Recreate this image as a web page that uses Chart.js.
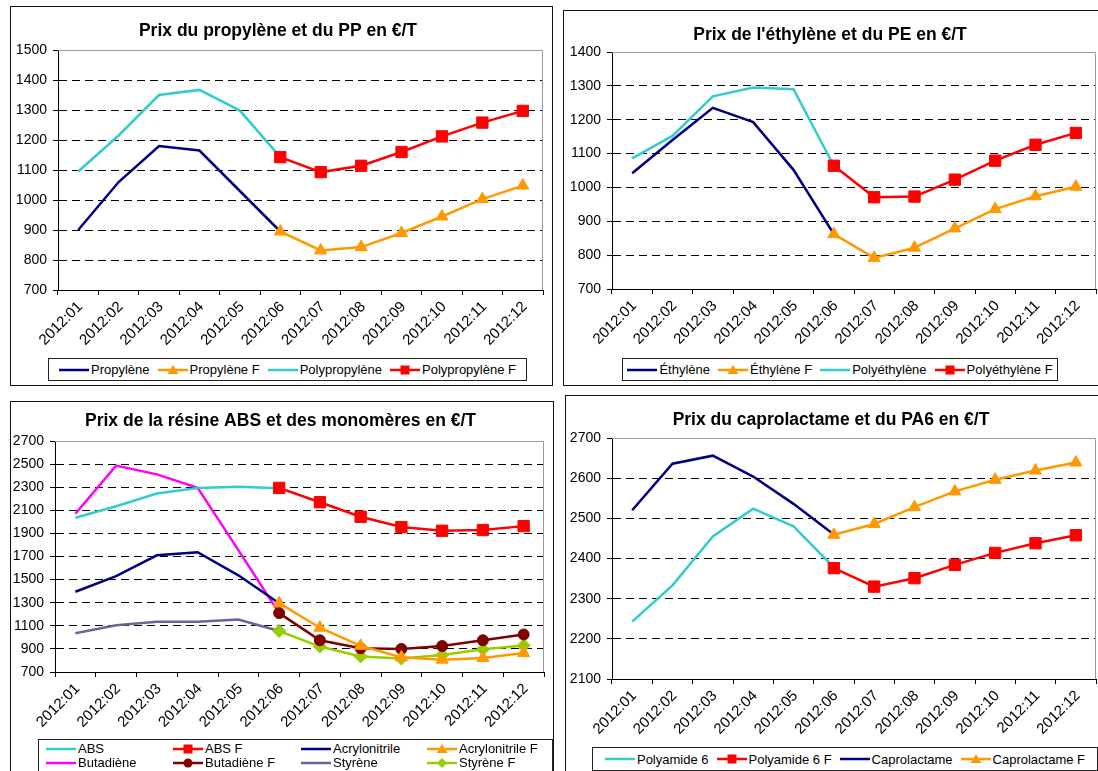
<!DOCTYPE html>
<html lang="fr">
<head>
<meta charset="utf-8">
<title>Prix des plastiques et monomères 2012</title>
<script src="https://cdn.jsdelivr.net/npm/chart.js@4.4.1/dist/chart.umd.min.js"></script>
<style>
  html, body { margin: 0; padding: 0; background: #fff; }
  body { position: relative; width: 1098px; height: 771px; overflow: hidden; font-family: "Liberation Sans", Arial, sans-serif; }
  .panel { position: absolute; box-sizing: border-box; border: 1px solid #111; background: #fff; }
  .panel canvas { position: absolute; left: 0; top: 0; }
  .legend { position: absolute; box-sizing: border-box; border: 1px solid #222; background: #fff;
            font-size: 13px; color: #000; display: flex; align-items: center; justify-content: center; gap: 8px; }
  .legend.cols { display: grid; grid-template-columns: 127px 128px 126px auto; justify-content: start;
                 align-content: start; gap: 0; padding: 2px 0 0 7px; line-height: 14px; }
  .legend .item { display: flex; align-items: center; white-space: nowrap; }
  .legend .item canvas { margin-right: 2px; }
</style>
</head>
<body>
<script>
const MONTHS = ['2012:01', '2012:02', '2012:03', '2012:04', '2012:05', '2012:06',
                '2012:07', '2012:08', '2012:09', '2012:10', '2012:11', '2012:12'];

// propylène / PP (€/T)
const PROPYLENE      = [900, 1060, 1180, 1165, 1030, 895, null, null, null, null, null, null];
const PROPYLENE_F    = [null, null, null, null, null, 895, 832, 843, 890, 945, 1003, 1048];
const POLYPROPYLENE  = [1095, 1215, 1350, 1367, 1298, 1143, null, null, null, null, null, null];
const POLYPROPYLENE_F = [null, null, null, null, null, 1143, 1093, 1114, 1160, 1212, 1258, 1297];

// éthylène / PE
const ETHYLENE       = [1042, 1140, 1235, 1193, 1052, 862, null, null, null, null, null, null];
const ETHYLENE_F     = [null, null, null, null, null, 862, 792, 822, 879, 936, 974, 1002];
const POLYETHYLENE   = [1086, 1152, 1269, 1295, 1290, 1064, null, null, null, null, null, null];
const POLYETHYLENE_F = [null, null, null, null, null, 1064, 971, 973, 1023, 1079, 1126, 1161];

// ABS et monomères
const ABS              = [2035, 2135, 2245, 2294, 2303, 2290, null, null, null, null, null, null];
const ABS_F            = [null, null, null, null, null, 2294, 2170, 2044, 1955, 1923, 1929, 1963];
const ACRYLONITRILE    = [1395, 1530, 1710, 1737, 1537, 1296, null, null, null, null, null, null];
const ACRYLONITRILE_F  = [null, null, null, null, null, 1296, 1083, 927, 827, 807, 821, 864];
const BUTADIENE        = [2070, 2487, 2411, 2294, 1755, 1210, null, null, null, null, null, null];
const BUTADIENE_F      = [null, null, null, null, null, 1210, 975, 905, 900, 925, 975, 1025];
const STYRENE          = [1035, 1105, 1135, 1135, 1155, 1055, null, null, null, null, null, null];
const STYRENE_F        = [null, null, null, null, null, 1055, 920, 835, 817, 847, 896, 930];

// caprolactame / PA6
const POLYAMIDE6       = [2243, 2333, 2455, 2524, 2480, 2378, null, null, null, null, null, null];
const POLYAMIDE6_F     = [null, null, null, null, null, 2376, 2330, 2351, 2384, 2414, 2438, 2458];
const CAPROLACTAME     = [2520, 2636, 2656, 2604, 2536, 2460, null, null, null, null, null, null];
const CAPROLACTAME_F   = [null, null, null, null, null, 2459, 2486, 2528, 2567, 2596, 2619, 2639];

const NAVY = '#000080', ORANGE = '#FF9900', CYAN = '#33CCCC', RED = '#FF0000';
const MAGENTA = '#FF00FF', MAROON = '#800000', SLATE = '#666699', LIME = '#99CC00';

const FONT = '"Liberation Sans", Arial, sans-serif';
const MARKER_RADIUS = { triangle: 7, rect: 8, circle: 5.5, rectRot: 6.5 };

Chart.defaults.font.family = FONT;
Chart.defaults.color = '#000';

const PANELS = [
  {
    title: 'Prix du propylène et du PP en €/T',
    box: { x: 10, y: 6, w: 543, h: 380 },
    area: { l: 58, t: 50, r: 545, b: 290 },
    titleY: 31,
    y: { min: 700, max: 1500, step: 100 },
    legend: { x: 48, y: 358, w: 479, h: 23 },
    series: [
      ['Propylène', PROPYLENE, NAVY, null],
      ['Propylène F', PROPYLENE_F, ORANGE, 'triangle'],
      ['Polypropylène', POLYPROPYLENE, CYAN, null],
      ['Polypropylène F', POLYPROPYLENE_F, RED, 'rect']
    ]
  },
  {
    title: "Prix de l'éthylène et du PE en €/T",
    box: { x: 563, y: 10, w: 545, h: 376 },
    area: { l: 612, t: 52, r: 1096, b: 289 },
    titleY: 35,
    y: { min: 700, max: 1400, step: 100 },
    legend: { x: 622, y: 358, w: 436, h: 23 },
    series: [
      ['Éthylène', ETHYLENE, NAVY, null],
      ['Éthylène F', ETHYLENE_F, ORANGE, 'triangle'],
      ['Polyéthylène', POLYETHYLENE, CYAN, null],
      ['Polyéthylène F', POLYETHYLENE_F, RED, 'rect']
    ]
  },
  {
    title: 'Prix de la résine ABS et des monomères en €/T',
    box: { x: 10, y: 401, w: 544, h: 400 },
    area: { l: 55, t: 441, r: 550, b: 672 },
    titleY: 421,
    y: { min: 700, max: 2700, step: 200 },
    legend: { x: 38, y: 739, w: 515, h: 38, cols: true },
    series: [
      ['ABS', ABS, CYAN, null],
      ['ABS F', ABS_F, RED, 'rect'],
      ['Acrylonitrile', ACRYLONITRILE, NAVY, null],
      ['Acrylonitrile F', ACRYLONITRILE_F, ORANGE, 'triangle'],
      ['Butadiène', BUTADIENE, MAGENTA, null],
      ['Butadiène F', BUTADIENE_F, MAROON, 'circle'],
      ['Styrène', STYRENE, SLATE, null],
      ['Styrène F', STYRENE_F, LIME, 'rectRot']
    ]
  },
  {
    title: 'Prix du caprolactame et du PA6 en €/T',
    box: { x: 565, y: 395, w: 545, h: 400 },
    area: { l: 612, t: 438, r: 1096, b: 679 },
    titleY: 420,
    y: { min: 2100, max: 2700, step: 100 },
    legend: { x: 592, y: 747, w: 506, h: 24 },
    series: [
      ['Polyamide 6', POLYAMIDE6, CYAN, null],
      ['Polyamide 6 F', POLYAMIDE6_F, RED, 'rect'],
      ['Caprolactame', CAPROLACTAME, NAVY, null],
      ['Caprolactame F', CAPROLACTAME_F, ORANGE, 'triangle']
    ]
  }
];

// grey frame on the top and right edges of the plot area
const plotFrame = {
  id: 'plotFrame',
  beforeDatasetsDraw(chart) {
    const { ctx, chartArea: a } = chart;
    ctx.save();
    ctx.strokeStyle = '#9a9a9a';
    ctx.lineWidth = 1;
    ctx.beginPath();
    ctx.moveTo(a.left, Math.round(a.top) + 0.5);
    ctx.lineTo(Math.round(a.right) - 0.5, Math.round(a.top) + 0.5);
    ctx.lineTo(Math.round(a.right) - 0.5, a.bottom);
    ctx.stroke();
    ctx.restore();
  }
};

function makeDataset([label, data, color, marker]) {
  return {
    label: label,
    data: data,
    borderColor: color,
    backgroundColor: color,
    borderWidth: 2.5,
    tension: 0,
    spanGaps: false,
    pointStyle: marker || 'circle',
    pointRadius: marker ? MARKER_RADIUS[marker] : 0,
    pointHoverRadius: marker ? MARKER_RADIUS[marker] : 0,
    pointBorderWidth: 1,
    // forecast series sit on top of the history lines
    order: marker ? 0 : 1,
    marker: marker
  };
}

function drawSwatch(ctx, color, marker) {
  const cx = 15, cy = 6;
  ctx.strokeStyle = color;
  ctx.fillStyle = color;
  ctx.lineWidth = 2.5;
  ctx.beginPath();
  ctx.moveTo(0, cy);
  ctx.lineTo(30, cy);
  ctx.stroke();
  if (!marker) return;
  ctx.beginPath();
  if (marker === 'triangle') {
    ctx.moveTo(cx, cy - 5);
    ctx.lineTo(cx + 5.5, cy + 4);
    ctx.lineTo(cx - 5.5, cy + 4);
  } else if (marker === 'rect') {
    ctx.rect(cx - 4.5, cy - 4.5, 9, 9);
  } else if (marker === 'circle') {
    ctx.arc(cx, cy, 4.5, 0, Math.PI * 2);
  } else if (marker === 'rectRot') {
    ctx.moveTo(cx, cy - 5);
    ctx.lineTo(cx + 5, cy);
    ctx.lineTo(cx, cy + 5);
    ctx.lineTo(cx - 5, cy);
  }
  ctx.closePath();
  ctx.fill();
}

function buildLegend(chart, spec) {
  const box = document.createElement('div');
  box.className = spec.cols ? 'legend cols' : 'legend';
  Object.assign(box.style, {
    left: spec.x + 'px', top: spec.y + 'px', width: spec.w + 'px', height: spec.h + 'px'
  });
  chart.data.datasets.forEach(ds => {
    const item = document.createElement('div');
    item.className = 'item';
    const sw = document.createElement('canvas');
    sw.width = 30;
    sw.height = 12;
    drawSwatch(sw.getContext('2d'), ds.borderColor, ds.marker);
    const text = document.createElement('span');
    text.textContent = ds.label;
    item.append(sw, text);
    box.appendChild(item);
  });
  document.body.appendChild(box);
}

function buildPanel(p) {
  const panel = document.createElement('div');
  panel.className = 'panel';
  Object.assign(panel.style, {
    left: p.box.x + 'px', top: p.box.y + 'px', width: p.box.w + 'px', height: p.box.h + 'px'
  });
  document.body.appendChild(panel);

  const innerX = p.box.x + 1, innerY = p.box.y + 1;
  const W = p.box.w - 2, H = p.box.h - 2;
  const canvas = document.createElement('canvas');
  canvas.width = W;
  canvas.height = H;
  canvas.style.width = W + 'px';
  canvas.style.height = H + 'px';
  panel.appendChild(canvas);

  const titleSize = 17.5, titleLine = titleSize * 1.2;
  const titleMid = p.titleY - innerY;
  const areaTop = p.area.t - innerY;
  const yWidth = p.area.l - innerX;
  const xHeight = H - (p.area.b - innerY);
  const padRight = W - (p.area.r - innerX);

  const chart = new Chart(canvas, {
    type: 'line',
    data: { labels: MONTHS, datasets: p.series.map(makeDataset) },
    options: {
      responsive: false,
      animation: false,
      events: [],
      layout: { padding: { left: 0, top: 0, right: padRight, bottom: 0 } },
      plugins: {
        legend: { display: false },
        tooltip: { enabled: false },
        title: {
          display: true,
          text: p.title,
          color: '#000',
          font: { family: FONT, size: titleSize, weight: 'bold', lineHeight: 1.2 },
          padding: { top: titleMid - titleLine / 2, bottom: areaTop - titleMid - titleLine / 2 }
        }
      },
      scales: {
        x: {
          offset: true,
          grid: { offset: true, drawOnChartArea: false, drawTicks: true, tickLength: 5, tickColor: '#000', color: '#000' },
          border: { display: true, color: '#000', width: 1 },
          ticks: { autoSkip: false, minRotation: 45, maxRotation: 45, padding: 3, labelOffset: 2,
                   font: { size: 15 }, color: '#000' },
          afterFit: s => { s.height = xHeight; }
        },
        y: {
          min: p.y.min,
          max: p.y.max,
          ticks: { stepSize: p.y.step, padding: 6, font: { size: 14 }, color: '#000',
                   callback: v => String(v) },
          grid: {
            color: c => (c.tick.value === p.y.min || c.tick.value === p.y.max) ? 'rgba(0,0,0,0)' : '#000',
            lineWidth: 1,
            tickColor: '#000',
            tickLength: 5
          },
          border: { display: true, color: '#000', width: 1, dash: [8, 5] },
          afterFit: s => { s.width = yWidth; }
        }
      }
    },
    plugins: [plotFrame]
  });

  buildLegend(chart, p.legend);
}

PANELS.forEach(buildPanel);
</script>
</body>
</html>
